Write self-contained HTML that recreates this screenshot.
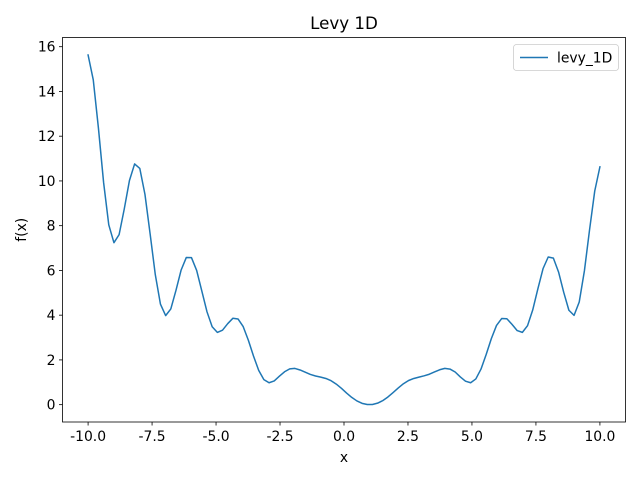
<!DOCTYPE html>
<html><head><meta charset="utf-8"><style>
body{margin:0;background:#fff;}
svg{display:block;font-family:"DejaVu Sans","Liberation Sans",sans-serif;}
</style></head><body>
<svg id="chart" width="640" height="480" viewBox="0 0 640 480">
<rect width="640" height="480" fill="#fff"/>
<text x="344" y="29" font-size="16.7" text-anchor="middle">Levy 1D</text>
<g id="plot"></g>
</svg>
<script>
const yValues = [15.63,14.52,12.36,9.93,8.04,7.24,7.60,8.75,10.02,10.76,10.56,9.40,7.63,5.81,4.49,3.98,4.28,5.11,6.02,6.58,6.57,6.00,5.08,4.15,3.48,3.23,3.33,3.62,3.86,3.83,3.49,2.88,2.17,1.53,1.12,0.98,1.06,1.27,1.47,1.60,1.62,1.55,1.45,1.35,1.28,1.23,1.17,1.07,0.92,0.73,0.52,0.325,0.166,0.058,0.006,0.008,0.067,0.18,0.343,0.542,0.749,0.936,1.08,1.17,1.23,1.29,1.36,1.46,1.56,1.62,1.59,1.46,1.24,1.05,0.98,1.15,1.59,2.24,2.95,3.54,3.85,3.84,3.59,3.31,3.23,3.53,4.23,5.18,6.08,6.60,6.55,5.93,5.02,4.22,3.99,4.59,5.98,7.82,9.55,10.63];
const xStart = -10;
const xEnd = 10;
const xTicks = [-10.0,-7.5,-5.0,-2.5,0.0,2.5,5.0,7.5,10.0];
const yTicks = [0,2,4,6,8,10,12,14,16];
const seriesName = "levy_1D";

const NS="http://www.w3.org/2000/svg";
const g=document.getElementById('plot');
const L=62.5,R=625.5,T=37.5,B=422;
const n=yValues.length;
const xs=yValues.map((_,i)=>xStart+(xEnd-xStart)*i/(n-1));
const xmin=Math.min(...xs),xmax=Math.max(...xs),xm=(xmax-xmin)*0.05;
const ymin=Math.min(...yValues),ymax=Math.max(...yValues),ym=(ymax-ymin)*0.05;
const sx=v=>L+(v-(xmin-xm))/((xmax+xm)-(xmin-xm))*(R-L);
const sy=v=>B-(v-(ymin-ym))/((ymax+ym)-(ymin-ym))*(B-T);
function mk(t,a){const e=document.createElementNS(NS,t);for(const k in a)e.setAttribute(k,a[k]);g.appendChild(e);return e;}
const line=mk('polyline',{points:xs.map((x,i)=>sx(x).toFixed(2)+','+sy(yValues[i]).toFixed(2)).join(' '),fill:'none',stroke:'#1f77b4','stroke-width':1.5,'stroke-linejoin':'round','stroke-linecap':'square'});


const fr=mk('rect',{x:L,y:T,width:R-L,height:B-T,fill:'none',stroke:'#000','stroke-width':0.8});


xTicks.forEach(v=>{
  const x=sx(v);
  const tk=mk('line',{x1:x,x2:x,y1:B,y2:B+3.5,stroke:'#000','stroke-width':0.8});
  
  
  const t=mk('text',{x:x,y:B+19,'font-size':13.9,'text-anchor':'middle'});
  t.textContent=v.toFixed(1);
  
  
});
yTicks.forEach(v=>{
  const y=sy(v);
  const tk=mk('line',{x1:L-3.5,x2:L,y1:y,y2:y,stroke:'#000','stroke-width':0.8});
  
  
  const t=mk('text',{x:L-7,y:y+5,'font-size':13.9,'text-anchor':'end'});
  t.textContent=v;
  
  
});
const xl=mk('text',{x:(L+R)/2,y:462,'font-size':13.9,'text-anchor':'middle'});
xl.textContent='x';


const yl=mk('text',{x:0,y:0,'font-size':13.9,'text-anchor':'middle',transform:'translate(26,'+((T+B)/2)+') rotate(-90)'});
yl.textContent='f(x)';


const lb=mk('rect',{x:513.5,y:44.5,width:105,height:26,rx:3,fill:'#fff','fill-opacity':0.8,stroke:'#ccc','stroke-width':0.8});


const ll=mk('line',{x1:520,x2:548,y1:57.5,y2:57.5,stroke:'#1f77b4','stroke-width':1.5});


const lt=mk('text',{x:557,y:62.5,'font-size':13.9});
lt.textContent=seriesName;


</script>
</body></html>
